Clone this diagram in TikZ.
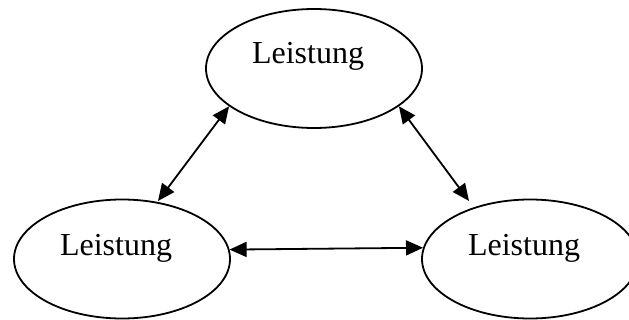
\documentclass[tikz,border=0pt]{standalone}
\usepackage{fontspec}
\setmainfont{Liberation Serif}
\usetikzlibrary{arrows.meta,shapes.geometric}
\begin{document}
\begin{tikzpicture}[x=1pt,y=-1pt,
  blob/.style={draw, line width=1.8pt, ellipse, minimum width=216pt, minimum height=119pt, inner sep=0pt},
  lbl/.style={anchor=base, inner sep=0pt, font=\fontsize{32}{38}\selectfont},
  link/.style={line width=1.8pt, {Triangle[length=17pt,width=15pt]}-{Triangle[length=17pt,width=15pt]}}]
  \useasboundingbox (0,0) rectangle (629,320);
  % the three ellipses
  \node[blob] (top) at (314,68.5) {};
  \node[blob] (left) at (122,259) {};
  \node[blob] (right) at (530,259) {};
  % their labels
  \node[lbl] (topt) at (308,64) {Leistung};
  \node[lbl] (leftt) at (116,256) {Leistung};
  \node[lbl] (rightt) at (524,256) {Leistung};
  % arrow ends
  \coordinate (lefttip) at (158,201);
  \coordinate (righttip) at (469,201);
  % two-way arrows
  \draw[link] (top.204) -- (lefttip);
  \draw[link] (top.336) -- (righttip);
  \draw[link] (left.5.2) -- (right.174.8);
\end{tikzpicture}
\end{document}
